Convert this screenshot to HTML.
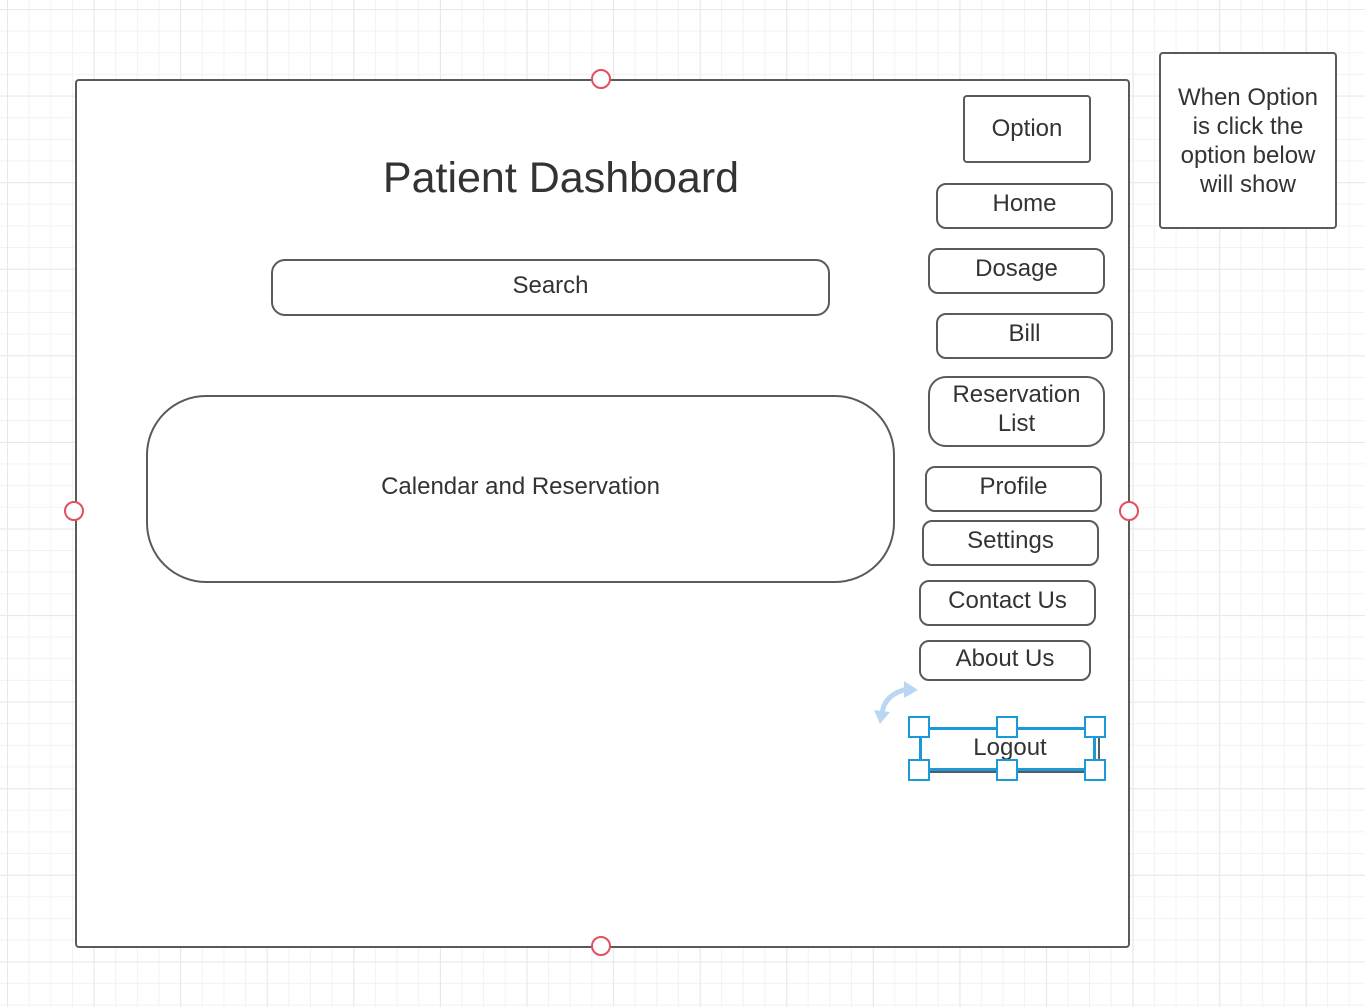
<!DOCTYPE html>
<html><head><style>
body{margin:0;width:1365px;height:1007px;position:relative;overflow:hidden;font-family:"Liberation Sans",sans-serif;color:#333;
background-color:#fff;
background-image:linear-gradient(#e8e8e8 1px,transparent 1px),linear-gradient(90deg,#e8e8e8 1px,transparent 1px),linear-gradient(#f2f2f2 1px,transparent 1px),linear-gradient(90deg,#f2f2f2 1px,transparent 1px);
background-size:86.6px 86.6px,86.6px 86.6px,21.65px 21.65px,21.65px 21.65px;
background-position:7px 9px,7px 9px,7px 9px,7px 9px;}
.b{position:absolute;box-sizing:border-box;border:2px solid #5a5a5a;background:#fff;display:flex;align-items:center;justify-content:center;text-align:center;font-size:24px;line-height:29px;padding-bottom:5px}
.r{border-radius:10px}
.h{position:absolute;width:20px;height:20px;border:2px solid #e05060;border-radius:50%;background:#fff;box-sizing:border-box}
.s{position:absolute;width:22px;height:22px;border:2px solid #1a9ad6;background:#fff;box-sizing:border-box}
</style></head><body>
<div class="b" style="left:75px;top:79px;width:1055px;height:869px;border-radius:4px"></div>
<div style="position:absolute;left:300px;top:154px;width:522px;text-align:center;font-size:43px">Patient Dashboard</div>
<div class="b" style="left:271px;top:259px;width:559px;height:57px;border-radius:14px">Search</div>
<div class="b" style="left:146px;top:395px;width:749px;height:188px;border-radius:60px">Calendar and Reservation</div>
<div class="b" style="left:963px;top:95px;width:128px;height:68px;border-radius:4px;padding-bottom:1px">Option</div>
<div class="b r" style="left:936px;top:183px;width:177px;height:46px">Home</div>
<div class="b r" style="left:928px;top:248px;width:177px;height:46px">Dosage</div>
<div class="b r" style="left:936px;top:313px;width:177px;height:46px">Bill</div>
<div class="b" style="left:928px;top:376px;width:177px;height:71px;border-radius:18px">Reservation<br>List</div>
<div class="b r" style="left:925px;top:466px;width:177px;height:46px">Profile</div>
<div class="b r" style="left:922px;top:520px;width:177px;height:46px">Settings</div>
<div class="b r" style="left:919px;top:580px;width:177px;height:46px">Contact Us</div>
<div class="b r" style="left:919px;top:640px;width:172px;height:41px">About Us</div>
<div class="b r" style="left:920px;top:727px;width:180px;height:46px">Logout</div>
<div style="position:absolute;left:919px;top:727px;width:177px;height:44px;border:3px solid #1a9ad6;box-sizing:border-box"></div>
<div class="s" style="left:908px;top:716px"></div><div class="s" style="left:996px;top:716px"></div><div class="s" style="left:1084px;top:716px"></div>
<div class="s" style="left:908px;top:759px"></div><div class="s" style="left:996px;top:759px"></div><div class="s" style="left:1084px;top:759px"></div>
<svg style="position:absolute;left:872px;top:678px" width="50" height="48"><path d="M10 36 Q12 16 36 11" fill="none" stroke="#b9d7f3" stroke-width="5"/><path d="M32 3 L46 12 L32 20Z" fill="#b9d7f3"/><path d="M2 32 L18 34 L8 46Z" fill="#b9d7f3"/></svg>
<div class="b" style="left:1159px;top:52px;width:178px;height:177px;border-radius:4px;line-height:29px;padding-bottom:0">When Option<br>is click the<br>option below<br>will show</div>
<div class="h" style="left:591px;top:69px"></div>
<div class="h" style="left:591px;top:936px"></div>
<div class="h" style="left:64px;top:501px"></div>
<div class="h" style="left:1119px;top:501px"></div>
</body></html>
